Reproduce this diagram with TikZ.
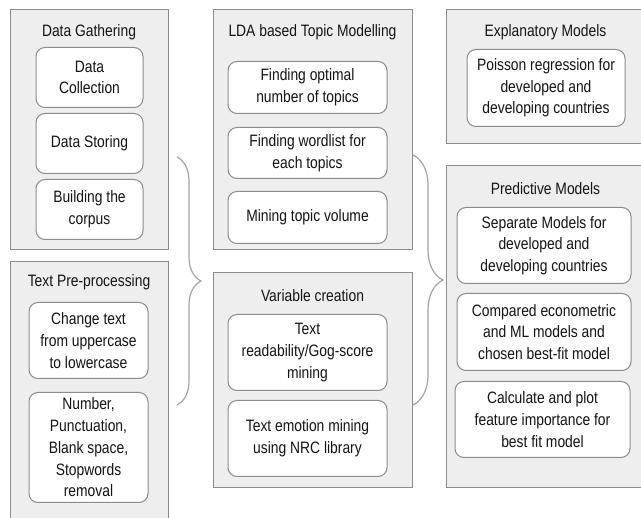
\documentclass[tikz,border=0pt]{standalone}
\usepackage{fontspec}
\setmainfont[FakeStretch=0.84]{Liberation Sans}
\usetikzlibrary{decorations.pathreplacing}
\definecolor{panelgray}{RGB}{238,238,238}
\definecolor{edgegray}{RGB}{140,140,140}
\definecolor{bracegray}{RGB}{165,165,165}
\definecolor{inkgray}{RGB}{20,20,20}

\begin{document}
\begin{tikzpicture}[x=1pt, y=-1pt,
    panel/.style={draw=edgegray, fill=panelgray, line width=1pt, inner sep=0pt},
    stepbox/.style={draw=edgegray, fill=white, rounded corners=9pt, line width=1pt,
        align=center, inner sep=0pt, text=inkgray, font=\fontsize{16.5}{21.7}\selectfont},
    paneltitle/.style={text=inkgray, font=\fontsize{16.5}{21.7}\selectfont},
    curly/.style={draw=bracegray, line width=1.2pt, decorate}]
    \useasboundingbox (0,0) rectangle (641,518);
    \clip (0,0) rectangle (641,518);

    % Stage panels
    \node[panel, minimum width=158pt, minimum height=240pt] (gather) at (89,130) {};
    \node[panel, minimum width=158pt, minimum height=268pt] (prep) at (89,396) {};
    \node[panel, minimum width=199pt, minimum height=240pt] (lda) at (312.5,130) {};
    \node[panel, minimum width=199pt, minimum height=215pt] (varcreate) at (312.5,380.5) {};
    \node[panel, minimum width=199pt, minimum height=134pt] (explain) at (545.5,77) {};
    \node[panel, minimum width=199pt, minimum height=322pt] (predict) at (545.5,327) {};

    % Panel titles
    \node[paneltitle] (gathertitle) at (89,32.5) {Data Gathering};
    \node[paneltitle] (preptitle) at (89,282.5) {Text Pre-processing};
    \node[paneltitle] (ldatitle) at (312.5,32.5) {LDA based Topic Modelling};
    \node[paneltitle] (vartitle) at (312.5,295.5) {Variable creation};
    \node[paneltitle] (explaintitle) at (545.5,32.5) {Explanatory Models};
    \node[paneltitle] (predicttitle) at (545.5,188.5) {Predictive Models};

    % Data gathering steps
    \node[stepbox, minimum width=107pt, minimum height=60pt] (collect) at (89.5,77.5) {Data\\Collection};
    \node[stepbox, minimum width=107pt, minimum height=60pt] (store) at (89.5,143.5) {Data Storing};
    \node[stepbox, minimum width=107pt, minimum height=60pt] (corpus) at (89.5,209.5) {Building the\\corpus};

    % Pre-processing steps
    \node[stepbox, minimum width=119pt, minimum height=76pt] (lowercase) at (88.5,340.5) {Change text\\from uppercase\\to lowercase};
    \node[stepbox, minimum width=119pt, minimum height=110pt] (stopwords) at (88.5,447.5) {Number,\\Punctuation,\\Blank space,\\Stopwords\\removal};

    % Topic modelling steps
    \node[stepbox, minimum width=159pt, minimum height=52pt] (optk) at (307.5,87.5) {Finding optimal\\number of topics};
    \node[stepbox, minimum width=159pt, minimum height=51pt] (wordlist) at (307.5,153) {Finding wordlist for\\each topics};
    \node[stepbox, minimum width=159pt, minimum height=52pt] (volume) at (307.5,217.5) {Mining topic volume};

    % Variable creation steps
    \node[stepbox, minimum width=159pt, minimum height=76pt] (readab) at (307.5,352.5) {Text\\readability/Gog-score\\mining};
    \node[stepbox, minimum width=159pt, minimum height=76pt] (emotion) at (307.5,438.5) {Text emotion mining\\using NRC library};

    % Model steps
    \node[stepbox, minimum width=158pt, minimum height=77pt] (poisson) at (546,88) {Poisson regression for\\developed and\\developing countries};
    \node[stepbox, minimum width=174pt, minimum height=76pt] (separate) at (544,245.5) {Separate Models for\\developed and\\developing countries};
    \node[stepbox, minimum width=174pt, minimum height=77pt] (compare) at (544,332) {Compared econometric\\and ML models and\\chosen best-fit model};
    \node[stepbox, minimum width=175pt, minimum height=76pt] (importance) at (542.5,419.5) {Calculate and plot\\feature importance for\\best fit model};

    % Braces between the stages
    \coordinate (leftbracetop) at (177,157);
    \coordinate (leftbracebot) at (177,405);
    \coordinate (rightbracetop) at (413,155);
    \coordinate (rightbracebot) at (413,405);
    \draw[curly, decoration={brace, amplitude=24pt}] (leftbracetop) -- (leftbracebot);
    \draw[curly, decoration={brace, amplitude=30pt}] (rightbracetop) -- (rightbracebot);
\end{tikzpicture}
\end{document}
